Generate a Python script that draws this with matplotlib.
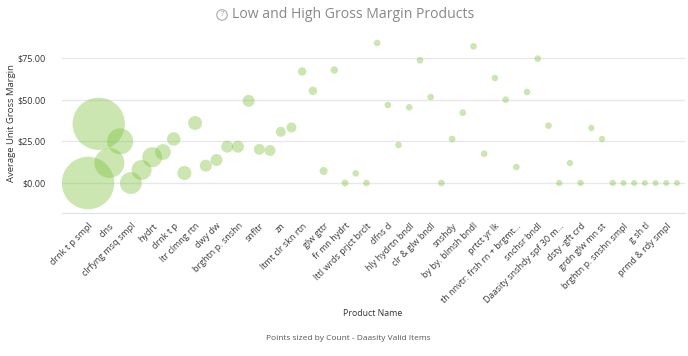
import numpy as np
import matplotlib
matplotlib.use("Agg")
import matplotlib.pyplot as plt

plt.rcParams['font.family'] = ['Open Sans', 'DejaVu Sans']

# avg unit gross margin per product (left to right)
margin = [0.0, 35.5, 12.0, 25.0, 0.0, 7.8, 15.5, 18.6, 26.4, 6.0,
          36.0, 10.4, 13.8, 21.8, 21.8, 49.3, 20.2, 19.5, 30.7, 33.3,
          66.9, 55.3, 7.2, 67.8, 0.0, 5.8, 0.0, 84.0, 46.8, 22.8,
          45.4, 73.6, 51.6, 0.0, 26.4, 42.2, 82.0, 17.6, 63.0, 50.0,
          9.6, 54.6, 74.6, 34.4, 0.0, 12.0, 0.0, 33.0, 26.4, 0.0,
          0.0, 0.0, 0.0, 0.0, 0.0, 0.0]
# count of valid items (bubble size)
count = [690, 685, 225, 170, 120, 100, 100, 62, 45, 49,
         49, 36, 36, 36, 36, 36, 30, 30, 25, 25,
         18, 18, 16, 14, 12, 11, 11, 11, 11, 11,
         11, 11, 11, 11, 11, 11, 11, 11, 11, 11,
         11, 11, 11, 11, 10, 10, 10, 10, 10, 10,
         9, 9, 9, 9, 9, 9]
# only every other product name is shown on the axis
shown_names = ["drnk t p smpl", "clns", "clrfyng msq smpl", "hydrt", "drnk t p",
               "ltr clmng rtn", "dwy dw", "brghtn p. snshn", "snfltr", "zn",
               "ltmt clr skn rtn", "glw gttr", "fr mn hydrt", "lttl wrds prjct brclt",
               "dfns d", "hly hydrtn bndl", "clr & glw bndl", "snshdy",
               "by by. blmsh bndl", "prtct yr lk", "th nnvtr: frsh rn + brgmt...",
               "snchsr bndl", "Daasity snshdy spf 30 m...", "dsty -gft crd",
               "grdn glw mn st", "brghtn p. snshn smpl", "g sh tl", "prmd & rdy smpl"]

W, H = 688, 356
fig = plt.figure(figsize=(W / 100, H / 100), dpi=100)
ax = fig.add_axes([62 / W, 1 - 213 / H, (685 - 62) / W, (213 - 33) / H])

x = np.arange(len(margin))
sizes = np.array(count) * 2.07
ax.scatter(x, margin, s=sizes, color='#7dc23a', alpha=0.4, linewidths=0, zorder=3)

ax.set_xlim(-2.43, 55.75)
ax.set_ylim(-18, 90)
ax.set_yticks([0, 25, 50, 75])
ax.set_yticklabels(["$0.00", "$25.00", "$50.00", "$75.00"])
ax.grid(axis='y', color='#e8e8ec', linewidth=1, zorder=0)
for s in ['top', 'right', 'left']:
    ax.spines[s].set_visible(False)
ax.spines['bottom'].set_color('#dcdfee')
ax.tick_params(axis='y', length=0, labelsize=6.5, labelcolor='#333333', pad=12)
ax.set_xticks(x[::2])
ax.set_xticklabels(shown_names, rotation=45, ha='right', va='top',
                   rotation_mode='anchor', fontsize=6.5, color='#3a3a3a')
ax.tick_params(axis='x', length=0, pad=6)

ax.set_ylabel("Average Unit Gross Margin", fontsize=6.8, color='#333333')
ax.yaxis.set_label_coords(-0.0745, 0.5)

fig.text(373 / W, 1 - 313 / H, "Product Name", ha='center', va='center',
         fontsize=6.3, color='#333333')
fig.text(348 / W, 1 - 338 / H, "Points sized by Count - Daasity Valid Items",
         ha='center', va='center', fontsize=6.0, color='#555555')
fig.text(232 / W, 1 - 15 / H, "Low and High Gross Margin Products", ha='left',
         va='center', fontsize=10.1, color='#888888')
fig.text(222 / W, 1 - 15 / H, "?", ha='center', va='center', fontsize=5,
         color='#999999',
         bbox=dict(boxstyle='circle,pad=0.25', fc='none', ec='#aaaaaa', lw=0.8))

fig.savefig("out.png", dpi=100)
